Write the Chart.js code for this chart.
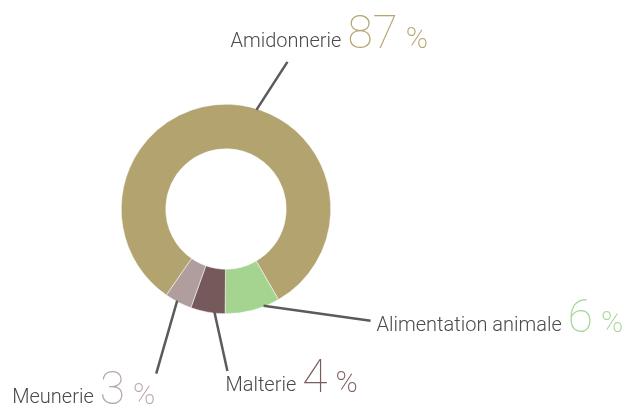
<!DOCTYPE html>
<html>
<head>
<meta charset="utf-8">
<script src="https://cdn.jsdelivr.net/npm/chart.js@4"></script>
<style>
  html, body { margin: 0; padding: 0; background: #fff; }
  #wrap { width: 626px; height: 409px; }
</style>
</head>
<body>
<div id="wrap"><canvas id="myChart" width="626" height="409"></canvas></div>
<script>
// data
const categories = ["Amidonnerie", "Alimentation animale", "Malterie", "Meunerie"];
const shownPercent = ["87", "6", "4", "3"];
// arc sizes as drawn in the reference
const arcValues = [82, 8.5, 5.3, 4.2];
const colors = ["#b3a36f", "#a5d491", "#765a5b", "#b09e9f"];
const numberColors = ["#b5a46f", "#a8d695", "#7a5d5e", "#b8a7a8"];

// leader line + label layout per slice
const callouts = [
  { t: 0.55, end: [31, -48], text: [-57, -15] },
  { t: 0.29, end: [107, 15], text: [6, 10] },
  { t: 0.31, end: [13, 59], text: [-2, 20] },
  { t: 0.56, end: [-21, 73], text: [-144, 29] },
];

const calloutPlugin = {
  id: "callouts",
  afterDraw(chart) {
    const ctx = chart.ctx;
    const arcs = chart.getDatasetMeta(0).data;
    arcs.forEach((arc, i) => {
      const c = callouts[i];
      const p = arc.getProps(["x", "y", "startAngle", "endAngle", "outerRadius"], true);
      const a = p.startAngle + c.t * (p.endAngle - p.startAngle);
      const ax = p.x + (p.outerRadius - 1) * Math.cos(a);
      const ay = p.y + (p.outerRadius - 1) * Math.sin(a);
      const ex = ax + c.end[0];
      const ey = ay + c.end[1];

      ctx.save();
      ctx.strokeStyle = "#5b5b5b";
      ctx.lineWidth = 2.5;
      ctx.beginPath();
      ctx.moveTo(ax, ay);
      ctx.lineTo(ex, ey);
      ctx.stroke();

      let x = ex + c.text[0];
      const y = ey + c.text[1];
      ctx.textBaseline = "alphabetic";
      ctx.textAlign = "left";

      ctx.font = "300 20px Roboto";
      ctx.fillStyle = "#4a4a4a";
      ctx.fillText(categories[i], x, y);
      x += ctx.measureText(categories[i]).width + 6;

      ctx.font = "100 46px Roboto";
      ctx.fillStyle = numberColors[i];
      ctx.fillText(shownPercent[i], x, y + 1);
      x += ctx.measureText(shownPercent[i]).width + 8;

      ctx.font = "200 30px Roboto";
      ctx.fillText("%", x, y + 1);
      ctx.restore();
    });
  },
};

const data = {
  labels: categories,
  datasets: [
    {
      data: arcValues,
      backgroundColor: colors,
      borderColor: "#ffffff",
      borderWidth: 0.5,
    },
  ],
};

const options = {
  responsive: false,
  animation: false,
  rotation: 214.7,
  cutout: "57.5%",
  layout: {
    padding: { left: 121, right: 295, top: 104, bottom: 95 },
  },
  plugins: {
    legend: { display: false },
    tooltip: { enabled: false },
  },
};

const config = {
  type: "doughnut",
  data: data,
  options: options,
  plugins: [calloutPlugin],
};

const myChart = new Chart(document.getElementById("myChart"), config);
</script>
</body>
</html>
